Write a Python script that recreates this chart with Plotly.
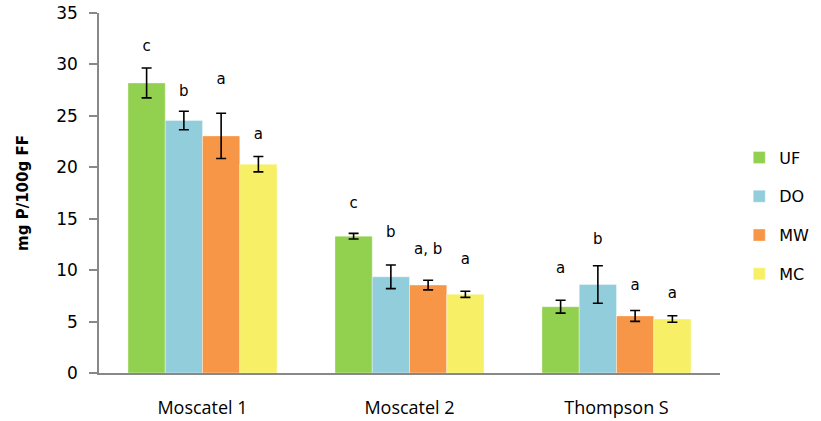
import plotly.graph_objects as go

categories = ["Moscatel 1", "Moscatel 2", "Thompson S"]
series = ["UF", "DO", "MW", "MC"]
colors = ["#92D050", "#92CDDC", "#F79646", "#F7F066"]

values = {
    "UF": [28.2, 13.3, 6.45],
    "DO": [24.55, 9.35, 8.6],
    "MW": [23.05, 8.55, 5.55],
    "MC": [20.3, 7.65, 5.25],
}
errors = {
    "UF": [1.45, 0.27, 0.63],
    "DO": [0.9, 1.15, 1.82],
    "MW": [2.2, 0.47, 0.53],
    "MC": [0.75, 0.3, 0.32],
}
letters = {
    "UF": ["c", "c", "a"],
    "DO": ["b", "b", "b"],
    "MW": ["a", "a, b", "a"],
    "MC": ["a", "a", "a"],
}
letter_y = {
    "UF": [31.7, 16.4, 10.1],
    "DO": [27.3, 13.6, 12.9],
    "MW": [28.5, 11.9, 8.4],
    "MC": [23.1, 11.0, 7.7],
}

FONT = "DejaVu Sans"
fig = go.Figure()
for i, (s, c) in enumerate(zip(series, colors)):
    fig.add_trace(go.Bar(
        x=categories, y=values[s], name=s, marker_color=c,
        marker_line_width=0.6, marker_line_color="rgba(255,255,255,0.6)",
        offsetgroup=str(i), legendgroup=s,
        error_y=dict(type="data", array=errors[s], color="black", thickness=1.6, width=5),
    ))
for i, s in enumerate(series):
    fig.add_trace(go.Scatter(
        x=categories, y=letter_y[s], text=letters[s], mode="text",
        textfont=dict(family=FONT, size=15, color="black"),
        offsetgroup=str(i), showlegend=False, hoverinfo="skip",
    ))

fig.update_layout(
    width=821, height=421,
    margin=dict(l=99, r=101, t=13, b=48, autoexpand=False),
    paper_bgcolor="white", plot_bgcolor="white",
    barmode="group", bargap=0.28, bargroupgap=0,
    scattermode="group", scattergap=0.28,
    font=dict(family=FONT, size=15, color="black"),
    legend=dict(x=1.031, xanchor="left", y=0.436, yanchor="middle",
                font=dict(family=FONT, size=16), tracegroupgap=15,
                traceorder="grouped", itemclick=False),
    showlegend=True,
)
fig.update_xaxes(
    showline=True, linecolor="#888888", linewidth=1.5, ticks="",
    tickfont=dict(family="Open Sans", size=18), ticklabelstandoff=18,
    automargin=False,
)
fig.update_yaxes(
    range=[0, 35], dtick=5, showgrid=False, zeroline=False,
    showline=True, linecolor="#888888", linewidth=1.5,
    ticks="outside", ticklen=8, tickcolor="#888888", tickwidth=1.5,
    tickfont=dict(family=FONT, size=17), ticklabelstandoff=8,
    title=dict(text="<b>mg P/100g FF</b>", font=dict(family=FONT, size=15), standoff=24),
    automargin=False,
)
fig.write_html("out.html")
